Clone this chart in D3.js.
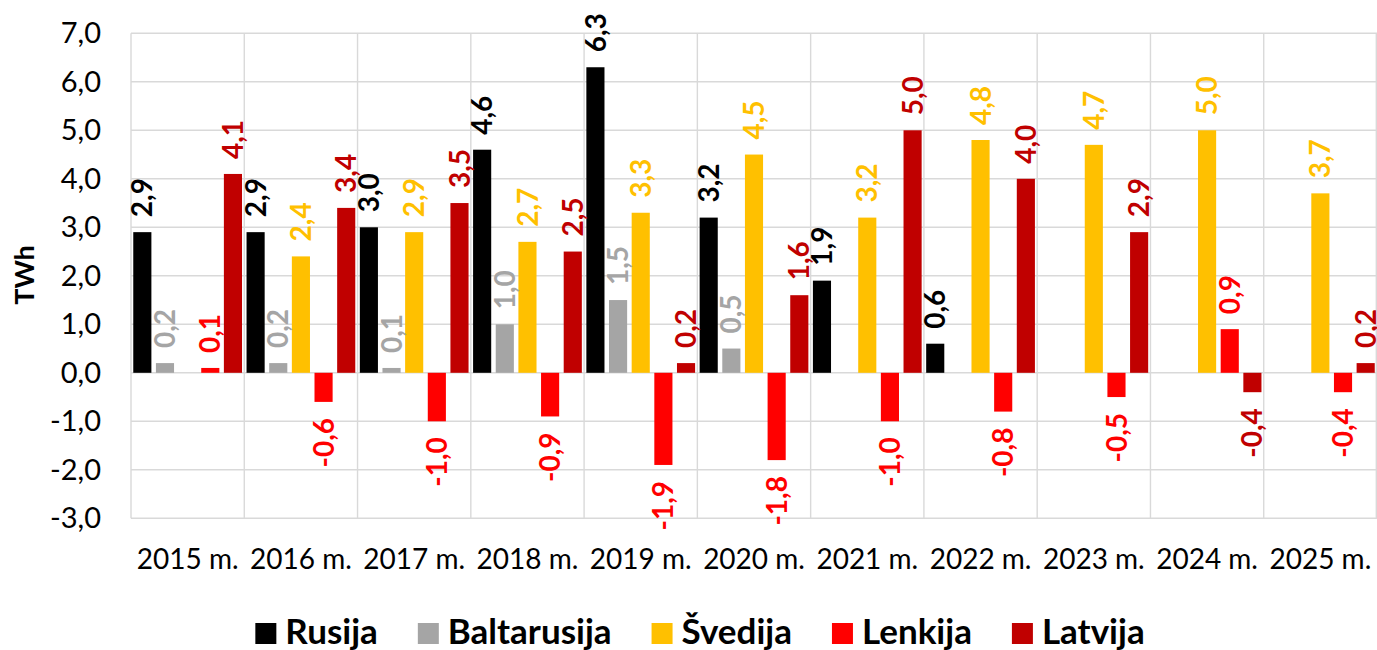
<!DOCTYPE html>
<html><head><meta charset="utf-8">
<script src="https://cdn.jsdelivr.net/npm/d3@7"></script>
<style>
body{margin:0;background:#fff}
svg{display:block}
text{font-family:Lato,"Open Sans",sans-serif}
</style>
</head><body>
<svg id="chart" width="1377" height="650"></svg>
<script>
const categories = ["2015 m.","2016 m.","2017 m.","2018 m.","2019 m.","2020 m.","2021 m.","2022 m.","2023 m.","2024 m.","2025 m."];
const seriesNames = ["Rusija","Baltarusija","Švedija","Lenkija","Latvija"];
const seriesColors = ["#000000","#A5A5A5","#FFC000","#FF0000","#C00000"];
const rusija      = [2.9, 2.9, 3.0, 4.6, 6.3, 3.2, 1.9, 0.6, null, null, null];
const baltarusija = [0.2, 0.2, 0.1, 1.0, 1.5, 0.5, null, null, null, null, null];
const svedija     = [null, 2.4, 2.9, 2.7, 3.3, 4.5, 3.2, 4.8, 4.7, 5.0, 3.7];
const lenkija     = [0.1, -0.6, -1.0, -0.9, -1.9, -1.8, -1.0, -0.8, -0.5, 0.9, -0.4];
const latvija     = [4.1, 3.4, 3.5, 2.5, 0.2, 1.6, 5.0, 4.0, 2.9, -0.4, 0.2];
const yTicks = [-3, -2, -1, 0, 1, 2, 3, 4, 5, 6, 7];
const yTitle = "TWh";

const seriesValues = [rusija, baltarusija, svedija, lenkija, latvija];

const fmt = v => (v < 0 ? "-" : "") + Math.abs(v).toFixed(1).replace(".", ",");

const svg = d3.select("#chart");
const plot = {left: 131, right: 1377, top: 33.3, bottom: 518.3};

const x0 = d3.scaleBand().domain(categories).range([plot.left, plot.right]).padding(0);
const x1 = d3.scaleBand().domain(seriesNames).range([0, x0.bandwidth()]).paddingInner(0.2).paddingOuter(0.1);
const y = d3.scaleLinear().domain([yTicks[0], yTicks[yTicks.length - 1]]).range([plot.bottom, plot.top]);

// grid
const grid = svg.append("g").attr("stroke", "#D9D9D9").attr("stroke-width", 1.4);
grid.selectAll("line.h").data(yTicks).join("line").attr("class", "h")
  .attr("x1", plot.left).attr("x2", plot.right)
  .attr("y1", d => y(d)).attr("y2", d => y(d));
const vx = categories.map(c => x0(c)).concat([plot.right - 0.7]);
grid.selectAll("line.v").data(vx).join("line").attr("class", "v")
  .attr("x1", d => d).attr("x2", d => d)
  .attr("y1", plot.top).attr("y2", plot.bottom);

// y axis
const yAxis = svg.append("g").attr("transform", `translate(${101},0)`)
  .call(d3.axisLeft(y).tickValues(yTicks).tickSize(0).tickPadding(0).tickFormat(fmt));
yAxis.select(".domain").remove();
yAxis.selectAll("text").attr("font-size", 29).attr("fill", "#000").attr("font-family", "Lato");

// x axis
const xAxis = svg.append("g").attr("transform", `translate(0,${548})`)
  .call(d3.axisBottom(x0).tickSize(0).tickPadding(0));
xAxis.select(".domain").remove();
xAxis.selectAll("text").attr("font-size", 28).attr("fill", "#000").attr("font-family", "Lato").attr("dy", "0.74em");

// y title
svg.append("text").attr("transform", `translate(25,275) rotate(-90)`)
  .attr("text-anchor", "middle").attr("dy", "0.35em")
  .attr("font-size", 27).attr("font-weight", "bold").text(yTitle);

// data
const rows = [];
categories.forEach((c, i) => {
  seriesNames.forEach((s, j) => {
    const v = seriesValues[j][i];
    if (v !== null && v !== undefined) rows.push({cat: c, series: s, value: v, color: seriesColors[j]});
  });
});

const barG = svg.append("g");
barG.selectAll("rect").data(rows).join("rect")
  .attr("x", d => x0(d.cat) + x1(d.series))
  .attr("width", x1.bandwidth())
  .attr("y", d => y(Math.max(0, d.value)))
  .attr("height", d => Math.abs(y(d.value) - y(0)))
  .attr("fill", d => d.color);

const labG = svg.append("g");
labG.selectAll("text").data(rows).join("text")
  .attr("transform", d => {
    const cx = x0(d.cat) + x1(d.series) + x1.bandwidth() / 2;
    const yy = d.value >= 0 ? y(d.value) - 15 : y(d.value) + 16;
    return `translate(${cx},${yy}) rotate(-90)`;
  })
  .attr("text-anchor", d => d.value >= 0 ? "start" : "end")
  .attr("dy", "0.36em")
  .attr("font-size", 28).attr("font-weight", "bold")
  .attr("fill", d => d.color)
  .text(d => fmt(d.value));

// legend
const leg = svg.append("g");
const items = leg.selectAll("g").data(seriesNames).join("g");
items.append("rect").attr("width", 21).attr("height", 21).attr("y", 623)
  .attr("fill", (d, i) => seriesColors[i]);
items.append("text").attr("x", 30).attr("y", 644).attr("font-size", 35).attr("font-weight", "bold")
  .attr("fill", "#000").text(d => d);
const gap = 40;
let widths = [];
items.each(function() { widths.push(30 + this.querySelector("text").getComputedTextLength()); });
const total = d3.sum(widths) + gap * (widths.length - 1);
let xs = 700 - total / 2;
items.each(function(d, i) { d3.select(this).attr("transform", `translate(${xs},0)`); xs += widths[i] + gap; });
</script>
</body></html>
